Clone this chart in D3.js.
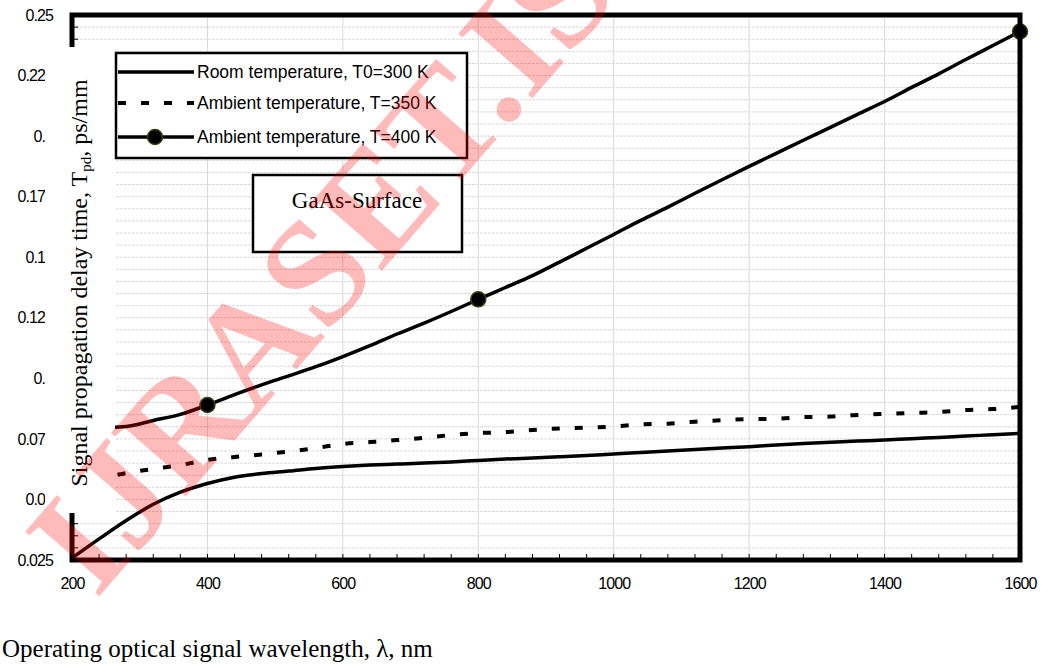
<!DOCTYPE html>
<html>
<head>
<meta charset="utf-8">
<script src="https://cdn.jsdelivr.net/npm/d3@7"></script>
<style>
  body { margin: 0; background: #fff; }
  svg { display: block; }
</style>
</head>
<body>
<div id="chart-area"></div>
<script>
// wavelength, nm
const wavelengths = [200, 240, 280, 320, 360, 400, 440, 480, 520, 560, 600, 640, 680, 720, 760, 800,
  840, 880, 920, 960, 1000, 1040, 1080, 1120, 1160, 1200, 1240, 1280, 1320, 1360, 1400, 1440, 1480, 1520, 1560, 1600];

// Tpd, ps/mm
const room300 = [0.0258, 0.0337, 0.0413, 0.0480, 0.0530, 0.0566, 0.0592, 0.0607, 0.0617, 0.0628, 0.0636, 0.0642,
  0.0646, 0.0650, 0.0655, 0.0661, 0.0667, 0.0671, 0.0676, 0.0681, 0.0688, 0.0694, 0.0700, 0.0706, 0.0712, 0.0718,
  0.0725, 0.0731, 0.0736, 0.0741, 0.0745, 0.0751, 0.0756, 0.0762, 0.0767, 0.0773];
const ambient350 = [0.0576, 0.0588, 0.0609, 0.0626, 0.0642, 0.0663, 0.0675, 0.0686, 0.0698, 0.0712, 0.0729, 0.0737,
  0.0745, 0.0754, 0.0766, 0.0774, 0.0778, 0.0787, 0.0793, 0.0796, 0.0801, 0.0810, 0.0813, 0.0821, 0.0827, 0.0832,
  0.0833, 0.0840, 0.0842, 0.0849, 0.0853, 0.0857, 0.0861, 0.0869, 0.0873, 0.0882];
const ambient400 = [0.0795, 0.0795, 0.0801, 0.0826, 0.0851, 0.0890, 0.0933, 0.0973, 0.1010, 0.1048, 0.1090, 0.1135,
  0.1183, 0.1228, 0.1276, 0.1326, 0.1375, 0.1424, 0.1480, 0.1537, 0.1594, 0.1652, 0.1707, 0.1764, 0.1820, 0.1875,
  0.1929, 0.1983, 0.2036, 0.2090, 0.2143, 0.2201, 0.2257, 0.2316, 0.2374, 0.2432];
const markerWavelengths = [400, 800, 1600];

const xTicks = [200, 400, 600, 800, 1000, 1200, 1400, 1600];
const xTickLabels = ["200", "400", "600", "800", "1000", "1200", "1400", "1600"];
const yTicks = [0.025, 0.05, 0.075, 0.1, 0.125, 0.15, 0.175, 0.2, 0.225, 0.25];
const yTickLabels = ["0.025", "0.05", "0.075", "0.1", "0.125", "0.15", "0.175", "0.2", "0.225", "0.25"];

const legendNames = ["Room temperature, T0=300 K", "Ambient temperature, T=350 K", "Ambient temperature, T=400 K"];

const chartSize = {width: 1042, height: 668};
const margin = {left: 72, top: 15, right: 22, bottom: 108};
const width = chartSize.width - margin.left - margin.right;
const height = chartSize.height - margin.top - margin.bottom;

const x = d3.scaleLinear().domain([200, 1600]).range([margin.left, margin.left + width]);
const y = d3.scaleLinear().domain([0.025, 0.25]).range([margin.top + height, margin.top]);

const svg = d3.select("#chart-area").append("svg")
  .attr("width", chartSize.width)
  .attr("height", chartSize.height);

// grid
const hGrid = d3.range(5, 51).map(i => i * 0.005);
svg.append("g").selectAll("line").data(hGrid).enter().append("line")
  .attr("x1", x(200)).attr("x2", x(1600))
  .attr("y1", d => y(d)).attr("y2", d => y(d))
  .attr("stroke", "#d9d9d9").attr("stroke-width", 1).attr("stroke-dasharray", "3,1");
svg.append("g").selectAll("line").data(xTicks).enter().append("line")
  .attr("x1", d => x(d)).attr("x2", d => x(d))
  .attr("y1", y(0.025)).attr("y2", y(0.25))
  .attr("stroke", "#d9d9d9").attr("stroke-width", 1);

// minor ticks inside the frame
svg.append("g").selectAll("line").data(d3.range(200, 1601, 40)).enter().append("line")
  .attr("x1", d => x(d)).attr("x2", d => x(d))
  .attr("y1", y(0.025)).attr("y2", y(0.025) - 6)
  .attr("stroke", "#000").attr("stroke-width", 1);
svg.append("g").selectAll("line").data(hGrid).enter().append("line")
  .attr("x1", x(200)).attr("x2", x(200) + 6)
  .attr("y1", d => y(d)).attr("y2", d => y(d))
  .attr("stroke", "#000").attr("stroke-width", 1);

// series
const line = d3.line().x(d => x(d[0])).y(d => y(d[1])).curve(d3.curveMonotoneX);
const zip = vals => wavelengths.map((w, i) => [w, vals[i]]);

svg.append("path").datum(zip(room300)).attr("d", line)
  .attr("fill", "none").attr("stroke", "#000").attr("stroke-width", 3.5);
svg.append("path").datum(zip(ambient350)).attr("d", line)
  .attr("fill", "none").attr("stroke", "#000").attr("stroke-width", 4).attr("stroke-dasharray", "8,15");
svg.append("path").datum(zip(ambient400)).attr("d", line)
  .attr("fill", "none").attr("stroke", "#000").attr("stroke-width", 3.5);
svg.append("g").selectAll("circle").data(markerWavelengths).enter().append("circle")
  .attr("cx", d => x(d))
  .attr("cy", d => y(ambient400[wavelengths.indexOf(d)]))
  .attr("r", 7.5)
  .attr("fill", "#000").attr("stroke", "#3d3d0a").attr("stroke-width", 1.5);

// frame
svg.append("rect")
  .attr("x", x(200)).attr("y", y(0.25))
  .attr("width", x(1600) - x(200)).attr("height", y(0.025) - y(0.25))
  .attr("fill", "none").attr("stroke", "#000").attr("stroke-width", 5);

// axes labels
const xAxis = d3.axisBottom(x).tickValues(xTicks).tickSize(0).tickPadding(18)
  .tickFormat((d, i) => xTickLabels[i]);
svg.append("g").attr("class", "x-axis")
  .attr("transform", `translate(0, ${y(0.025)})`)
  .call(xAxis)
  .call(g => g.select(".domain").remove());
const yAxis = d3.axisLeft(y).tickValues(yTicks).tickSize(0).tickPadding(19)
  .tickFormat((d, i) => yTickLabels[i]);
svg.append("g").attr("class", "y-axis")
  .attr("transform", `translate(${x(200)}, 0)`)
  .call(yAxis)
  .call(g => g.select(".domain").remove());
svg.selectAll(".x-axis text, .y-axis text")
  .attr("font-family", "Liberation Sans, Arial, sans-serif")
  .attr("font-size", 16).attr("letter-spacing", -0.9).attr("fill", "#000");

// white box behind the y title
svg.append("rect").attr("x", 45).attr("y", 47).attr("width", 70).attr("height", 466).attr("fill", "#fff");

const yTitle = svg.append("text")
  .attr("transform", "translate(87, 283) rotate(-90)")
  .attr("text-anchor", "middle")
  .attr("font-family", "Liberation Serif, Times New Roman, serif")
  .attr("font-size", 24).attr("fill", "#000");
yTitle.append("tspan").text("Signal propagation delay time, T");
yTitle.append("tspan").attr("font-size", 15).attr("dy", 4).text("pd");
yTitle.append("tspan").attr("dy", -4).text(", ps/mm");

svg.append("text")
  .attr("x", 2).attr("y", 657)
  .attr("font-family", "Liberation Serif, Times New Roman, serif")
  .attr("font-size", 25).attr("fill", "#000")
  .text("Operating optical signal wavelength, λ, nm");

// legend
const legend = svg.append("g");
legend.append("rect").attr("x", 116).attr("y", 53).attr("width", 351).attr("height", 105)
  .attr("fill", "#fff").attr("stroke", "#000").attr("stroke-width", 2.5);
const rowsY = [72, 103, 137];
legendNames.forEach((name, i) => {
  const l = legend.append("line").attr("x1", 118).attr("x2", 194).attr("y1", rowsY[i]).attr("y2", rowsY[i])
    .attr("stroke", "#000").attr("stroke-width", i === 1 ? 4 : 3.5);
  if (i === 1) l.attr("stroke-dasharray", "8,15");
  if (i === 2) legend.append("circle").attr("cx", 155).attr("cy", rowsY[i]).attr("r", 7.5)
    .attr("fill", "#000").attr("stroke", "#3d3d0a").attr("stroke-width", 1.5);
  legend.append("text").attr("x", 197).attr("y", rowsY[i]).attr("dy", "0.35em")
    .attr("font-family", "Liberation Sans, Arial, sans-serif").attr("font-size", 17.5).attr("fill", "#000")
    .text(name);
});

// annotation box
svg.append("rect").attr("x", 253).attr("y", 175).attr("width", 209).attr("height", 77)
  .attr("fill", "#fff").attr("stroke", "#000").attr("stroke-width", 2.5);
svg.append("text").attr("x", 357).attr("y", 208).attr("text-anchor", "middle")
  .attr("font-family", "Liberation Serif, Times New Roman, serif").attr("font-size", 23).attr("fill", "#000")
  .text("GaAs-Surface");

// watermark
svg.append("text")
  .attr("transform", "translate(96, 600) rotate(-49)")
  .attr("font-family", "Liberation Serif, Times New Roman, serif")
  .attr("font-weight", "bold").attr("font-size", 150)
  .attr("fill", "red").attr("fill-opacity", 0.27)
  .text("IJRASET.ISS");
</script>
</body>
</html>
